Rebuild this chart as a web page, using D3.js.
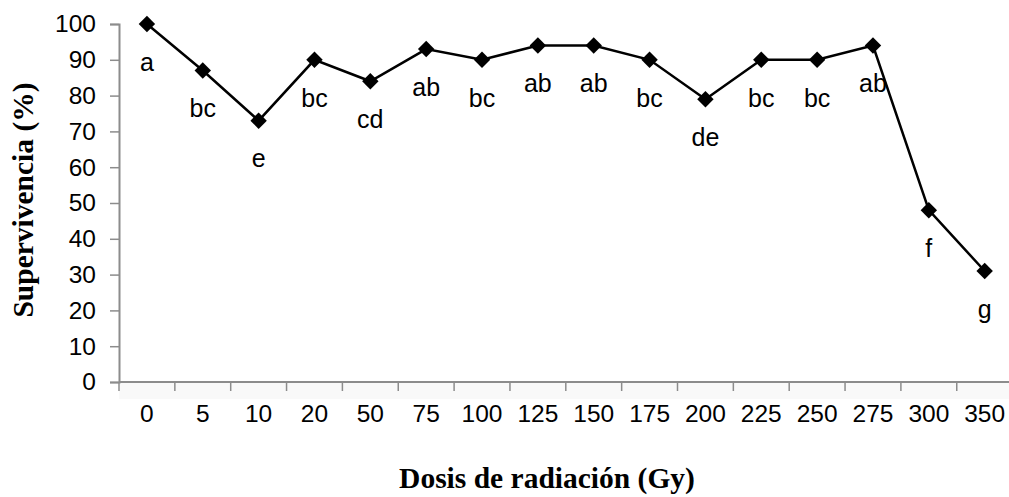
<!DOCTYPE html>
<html><head><meta charset="utf-8">
<script src="https://cdn.jsdelivr.net/npm/d3@7"></script>
<style>body{margin:0;background:#fff}svg{display:block}</style>
</head><body>
<svg id="c" width="1009" height="497"></svg>
<script>
const categories = ["0","5","10","20","50","75","100","125","150","175","200","225","250","275","300","350"];
const survival = [100,87,73,90,84,93,90,94,94,90,79,90,90,94,48,31];
const letters = ["a","bc","e","bc","cd","ab","bc","ab","ab","bc","de","bc","bc","ab","f","g"];
const yTicks = [0,10,20,30,40,50,60,70,80,90,100];

(function(){
const svg = d3.select("#c");
const mLeft = 119, mRight = 1012.6, mTop = 24, mBottom = 382;
const x = d3.scaleBand().domain(categories).range([mLeft, mRight]);
const y = d3.scaleLinear().domain([0,100]).range([mBottom, mTop]);
const axisColor = "#8c8c8c";
const sans = "'Liberation Sans', Arial, sans-serif";
const serif = "'Liberation Serif', 'Times New Roman', serif";

svg.append("rect").attr("x",mLeft).attr("y",mBottom).attr("width",mRight-mLeft).attr("height",17).attr("fill","#f9f9f9");

const ya = svg.append("g").attr("transform",`translate(${mLeft},0)`)
  .call(d3.axisLeft(y).tickValues(yTicks).tickSize(9).tickPadding(14));
ya.select(".domain").attr("stroke",axisColor).attr("stroke-width",2);
ya.selectAll(".tick line").attr("stroke",axisColor).attr("stroke-width",1.5);
ya.selectAll(".tick text").attr("font-family",sans).attr("font-size",24.5).attr("fill","#000");

const xa = svg.append("g").attr("transform",`translate(0,${mBottom})`);
xa.append("line").attr("x1",mLeft).attr("x2",mRight).attr("stroke",axisColor).attr("stroke-width",2);
xa.selectAll("line.t").data(categories).enter().append("line").attr("class","t")
  .attr("x1",d=>x(d)).attr("x2",d=>x(d)).attr("y1",0).attr("y2",9)
  .attr("stroke",axisColor).attr("stroke-width",1.5);
xa.selectAll("text").data(categories).enter().append("text")
  .attr("x",d=>x(d)+x.bandwidth()/2).attr("y",40)
  .attr("text-anchor","middle")
  .attr("font-family",sans).attr("font-size",24.5).attr("fill","#000")
  .text(d=>d);

const cx = d=>x(d)+x.bandwidth()/2;
const line = d3.line().x((d,i)=>cx(categories[i])).y(d=>y(d));
svg.append("path").datum(survival).attr("d",line).attr("fill","none").attr("stroke","#000").attr("stroke-width",2.5);

svg.selectAll("path.m").data(survival).enter().append("path").attr("class","m")
  .attr("d",d3.symbol(d3.symbolSquare, 135))
  .attr("transform",(d,i)=>`translate(${cx(categories[i])},${y(d)}) rotate(45)`)
  .attr("fill","#000");

svg.selectAll("text.l").data(letters).enter().append("text").attr("class","l")
  .attr("x",(d,i)=>cx(categories[i])).attr("y",(d,i)=>y(survival[i])+38)
  .attr("dy","0.35em").attr("text-anchor","middle")
  .attr("font-family",sans).attr("font-size",25).attr("fill","#000")
  .text(d=>d);

svg.append("text").attr("x",547).attr("y",488).attr("text-anchor","middle")
  .attr("font-family",serif).attr("font-weight","bold").attr("font-size",29.5)
  .text("Dosis de radiación (Gy)");
svg.append("text").attr("transform","translate(33,200) rotate(-90)").attr("text-anchor","middle")
  .attr("font-family",serif).attr("font-weight","bold").attr("font-size",29.5)
  .text("Supervivencia (%)");
})();
</script>
</body></html>
